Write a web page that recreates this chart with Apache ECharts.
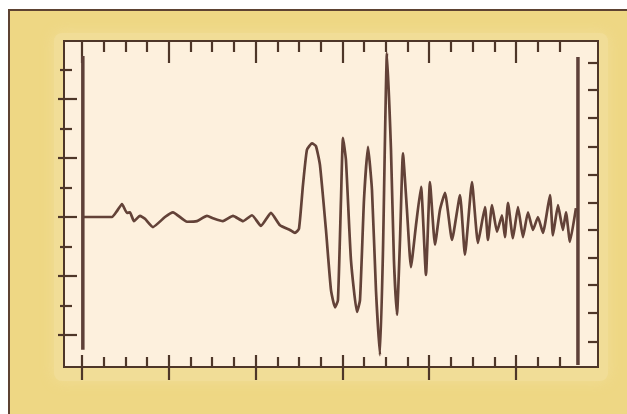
<!DOCTYPE html>
<html>
<head>
<meta charset="utf-8">
<script src="https://cdn.jsdelivr.net/npm/echarts@6/dist/echarts.min.js"></script>
<style>
  html, body { margin: 0; padding: 0; background: #ffffff; }
  #chart { width: 627px; height: 414px; }
</style>
</head>
<body>
<div id="chart"></div>
<script>
// Seismogram trace: time (major tick units) and ground motion amplitude
const traceTime = [
  0.01, 0.346, 0.403, 0.461, 0.518, 0.553, 0.599, 0.668, 0.726, 0.818,
  0.956, 1.048, 1.210, 1.325, 1.440, 1.509, 1.624, 1.740, 1.855, 1.959,
  2.062, 2.177, 2.281, 2.396, 2.454, 2.500, 2.546, 2.592, 2.650, 2.696,
  2.742, 2.811, 2.869, 2.915, 2.949, 2.984, 3.007, 3.041, 3.099, 3.168,
  3.203, 3.249, 3.295, 3.341, 3.387, 3.433, 3.468, 3.514, 3.560, 3.594,
  3.629, 3.664, 3.698, 3.744, 3.790, 3.848, 3.906, 3.963, 4.009, 4.067,
  4.124, 4.182, 4.263, 4.355, 4.412, 4.493, 4.562, 4.643, 4.677, 4.724,
  4.781, 4.839, 4.873, 4.908, 4.965, 5.023, 5.081, 5.138, 5.196, 5.253,
  5.311, 5.392, 5.426, 5.484, 5.541, 5.576, 5.622, 5.691
];
const traceAmp = [
  0, 0, 0.10, 0.22, 0.07, 0.08, -0.07, 0.02, -0.03, -0.17,
  0, 0.08, -0.08, -0.07, 0.02, -0.02, -0.07, 0.02, -0.07, 0.03,
  -0.15, 0.07, -0.14, -0.22, -0.27, -0.20, 0.54, 1.14, 1.25, 1.20,
  0.88, -0.22, -1.24, -1.53, -1.41, 0.29, 1.34, 0.97, -0.73, -1.61,
  -1.41, 0.29, 1.19, 0.46, -1.24, -2.34, -0.56, 2.78, 1.14, -0.73,
  -1.66, -0.39, 1.08, 0.12, -0.85, -0.14, 0.51, -0.98, 0.59, -0.47,
  0.12, 0.41, -0.39, 0.37, -0.64, 0.59, -0.44, 0.17, -0.39, 0.20,
  -0.25, 0.03, -0.34, 0.24, -0.36, 0.17, -0.34, 0.08, -0.22, 0,
  -0.27, 0.37, -0.31, 0.20, -0.22, 0.08, -0.42, 0.15
];

// Timing marks at the start and end of the record
const markTime = [0.01, 5.714];
const markTop = [2.73, 2.71];
const markBottom = [-2.25, -2.51];

// Tick positions
const xMajorTicks = [0, 1, 2, 3, 4, 5];
const xMinorTicks = [0.25, 0.5, 0.75, 1.25, 1.5, 1.75, 2.25, 2.5, 2.75, 3.25, 3.5, 3.75,
                     4.25, 4.5, 4.75, 5.25, 5.5];
const yMajorTicks = [-2, -1, 0, 1, 2];
const yMinorTicks = [-1.5, -0.5, 0.5, 1.5, 2.5];
const yRightTicks = [2.61, 2.15, 1.68, 1.19, 0.71, 0.25, -0.22, -0.69, -1.15, -1.63, -2.12];

const X_MIN = -0.207, X_MAX = 5.945;
const Y_MIN = -2.542, Y_MAX = 2.983;

const INK = '#4e3628';
const TRACE = '#634238';

function xAx(position, ticks, length, inside, offset) {
  return {
    type: 'value', position: position, min: X_MIN, max: X_MAX, offset: offset || 0,
    axisLine: { show: false, onZero: false },
    axisTick: { show: true, customValues: ticks, length: length, inside: inside,
                lineStyle: { color: INK, width: 2.2 } },
    axisLabel: { show: false },
    splitLine: { show: false }
  };
}
function yAx(position, ticks, length, inside, offset) {
  return {
    type: 'value', position: position, min: Y_MIN, max: Y_MAX, offset: offset || 0,
    axisLine: { show: false, onZero: false },
    axisTick: { show: true, customValues: ticks, length: length, inside: inside,
                lineStyle: { color: INK, width: 2.2 } },
    axisLabel: { show: false },
    splitLine: { show: false }
  };
}

const tracePoints = traceTime.map((t, i) => [t, traceAmp[i]]);

const chart = echarts.init(document.getElementById('chart'), null, { renderer: 'canvas' });
chart.setOption({
  backgroundColor: '#ffffff',
  animation: false,
  graphic: [
    { type: 'rect', z: -10, shape: { x: 9, y: 10, width: 700, height: 500 },
      style: { fill: '#EED784', stroke: '#5d4232', lineWidth: 2 } },
    { type: 'rect', z: -9, shape: { x: 54, y: 33, width: 554, height: 348, r: 8 },
      style: { fill: '#F1DD97', shadowBlur: 14, shadowColor: '#F1DD97' } }
  ],
  grid: {
    left: 64, top: 41, right: 29, bottom: 47,
    show: true, backgroundColor: '#FDF0DD', borderColor: INK, borderWidth: 2
  },
  xAxis: [
    xAx('bottom', xMajorTicks, 25, false, -12),
    xAx('bottom', xMinorTicks, 10, true, 0),
    xAx('top', xMajorTicks, 22, true, 0),
    xAx('top', xMinorTicks, 11, true, 0)
  ],
  yAxis: [
    yAx('left', yMajorTicks, 19, false, -13),
    yAx('left', yMinorTicks, 12, false, -8),
    yAx('right', yRightTicks, 10, true, 0)
  ],
  series: [
    {
      type: 'line', xAxisIndex: 0, yAxisIndex: 0,
      data: tracePoints, showSymbol: false, smooth: 0.15,
      lineStyle: { color: TRACE, width: 2.7, join: 'round' }
    },
    {
      type: 'line', xAxisIndex: 0, yAxisIndex: 0,
      data: [[markTime[0], markBottom[0]], [markTime[0], markTop[0]]],
      showSymbol: false, lineStyle: { color: '#5e4038', width: 3.5 }
    },
    {
      type: 'line', xAxisIndex: 0, yAxisIndex: 0,
      data: [[markTime[1], markBottom[1]], [markTime[1], markTop[1]]],
      showSymbol: false, lineStyle: { color: '#5e4038', width: 3.5 }
    }
  ]
});
</script>
</body>
</html>
